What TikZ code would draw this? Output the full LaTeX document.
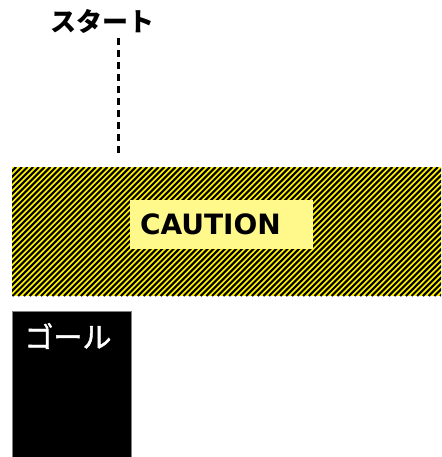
\documentclass[tikz,border=0pt]{standalone}
\usepackage{fontspec}
\newfontfamily\jpfont{Noto Sans CJK JP}
\newfontfamily\jpgoalfont[FakeBold=1.5]{Noto Sans CJK JP}
\newfontfamily\capfont{DejaVu Sans}

\begin{document}
\begin{tikzpicture}[
  x=1pt,y=-1pt,
  zone/.style={fill=yellow},
  stripe/.style={line width=2.1pt,black},
  label/.style={fill=yellow!45,inner xsep=10pt,inner ysep=0pt,text width=163pt,
                align=left,minimum height=49pt,
                font=\capfont\bfseries\fontsize{28}{28}\selectfont},
  goalbox/.style={fill=black,draw=gray,inner sep=0pt,minimum width=119pt,
                  minimum height=147pt},
  title/.style={font=\jpfont\bfseries\fontsize{26}{26}\selectfont},
  route/.style={line width=3pt,dash pattern=on 7pt off 5pt}
]
\useasboundingbox (0,0) rectangle (441,457);
% start
\node[title] (start) at (102,21) {スタート};
\coordinate (top) at (118,38);
\coordinate (bottom) at (118,155);
\draw[route] (top) -- (bottom);
% caution area
\fill[zone] (12,167) rectangle (441,296);
\begin{scope}
  \clip (12,167) rectangle (441,296);
  \foreach \x in {0,...,100}
    \draw[stripe] (-130+5.7*\x,296) -- (-1+5.7*\x,167);
\end{scope}
\node[label] (caution) at (221.5,224.5) {CAUTION};
% goal
\node[goalbox,anchor=north west] (goal) at (12,311) {};
\node[text=white,font=\jpgoalfont\fontsize{29}{29}\selectfont] (goaltext)
  at (68,336) {ゴール};
\end{tikzpicture}
\end{document}
